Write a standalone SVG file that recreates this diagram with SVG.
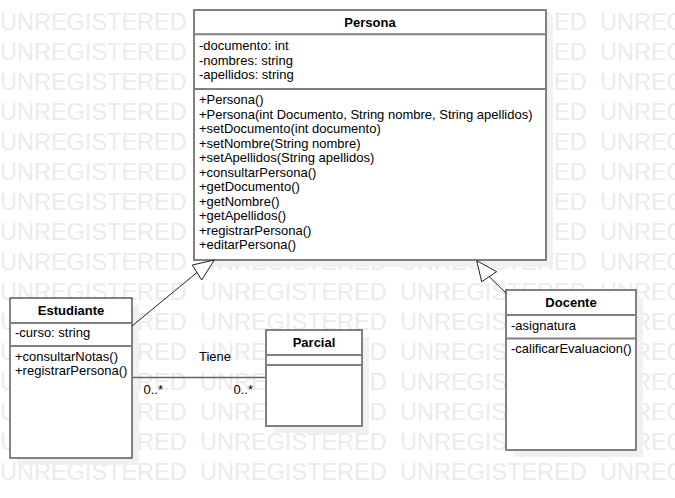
<svg xmlns="http://www.w3.org/2000/svg" xmlns:xlink="http://www.w3.org/1999/xlink" width="675" height="498" viewBox="0 0 675 498">
<style>
.wm{font-family:"Liberation Sans",Arial,sans-serif;font-size:23.5px;fill:#ebebeb}
.box{fill:#ffffff;stroke:#808080;stroke-width:2}
.boxd{fill:#ffffff;stroke:#333333;stroke-width:1.2}
.sep{stroke:#808080;stroke-width:2}
.shadow{fill:#f1f1f1}
.t{font-family:"Liberation Sans",Arial,sans-serif;font-size:13px;fill:#000}
.title{font-family:"Liberation Sans",Arial,sans-serif;font-size:13px;font-weight:bold;fill:#000;text-anchor:middle}
.edge{stroke:#222;stroke-width:1;fill:none}
.assoc{stroke:#666;stroke-width:1.5;fill:none}
.tri{stroke:#222;stroke-width:1;fill:#fff}
</style>
<defs>
<text id="wmrow" class="wm"><tspan x="0">UNREGISTERED</tspan><tspan x="200">UNREGISTERED</tspan><tspan x="400">UNREGISTERED</tspan><tspan x="600">UNREGISTERED</tspan></text>
</defs>
<rect width="675" height="498" fill="#ffffff"/>
<g id="watermark">
<use xlink:href="#wmrow" y="30"/><use xlink:href="#wmrow" y="60"/><use xlink:href="#wmrow" y="90"/><use xlink:href="#wmrow" y="120"/>
<use xlink:href="#wmrow" y="150"/><use xlink:href="#wmrow" y="180"/><use xlink:href="#wmrow" y="210"/><use xlink:href="#wmrow" y="240"/>
<use xlink:href="#wmrow" y="270"/><use xlink:href="#wmrow" y="300"/><use xlink:href="#wmrow" y="330"/><use xlink:href="#wmrow" y="360"/>
<use xlink:href="#wmrow" y="390"/><use xlink:href="#wmrow" y="420"/><use xlink:href="#wmrow" y="450"/><use xlink:href="#wmrow" y="480"/>
</g>
<g id="shadows">
<rect class="shadow" x="201" y="17" width="352" height="250"/>
<rect class="shadow" x="17" y="305" width="122" height="160"/>
<rect class="shadow" x="273" y="337" width="96" height="96"/>
<rect class="shadow" x="513" y="297" width="130" height="160"/>
</g>
<g id="Persona">
<rect class="box" x="194" y="10" width="352" height="250"/>
<line class="sep" x1="194" y1="34.3" x2="546" y2="34.3"/>
<line class="sep" x1="194" y1="89" x2="546" y2="89"/>
<text class="title" x="370" y="26.5">Persona</text>
<text class="t" x="199" y="50">-documento: int</text>
<text class="t" x="199" y="64.5">-nombres: string</text>
<text class="t" x="199" y="79">-apellidos: string</text>
<text class="t" x="199" y="104">+Persona()</text>
<text class="t" x="199" y="118.5">+Persona(int Documento, String nombre, String apellidos)</text>
<text class="t" x="199" y="133">+setDocumento(int documento)</text>
<text class="t" x="199" y="147.5">+setNombre(String nombre)</text>
<text class="t" x="199" y="162">+setApellidos(String apellidos)</text>
<text class="t" x="199" y="176.5">+consultarPersona()</text>
<text class="t" x="199" y="191">+getDocumento()</text>
<text class="t" x="199" y="205.5">+getNombre()</text>
<text class="t" x="199" y="220">+getApellidos()</text>
<text class="t" x="199" y="234.5">+registrarPersona()</text>
<text class="t" x="199" y="249">+editarPersona()</text>
</g>
<g id="Estudiante">
<rect class="boxd" x="10" y="298" width="122" height="160"/>
<line class="sep" x1="10" y1="323" x2="132" y2="323"/>
<line class="sep" x1="10" y1="346" x2="132" y2="346"/>
<text class="title" x="71" y="315">Estudiante</text>
<text class="t" x="15" y="337">-curso: string</text>
<text class="t" x="15" y="360.5">+consultarNotas()</text>
<text class="t" x="15" y="375">+registrarPersona()</text>
</g>
<g id="Parcial">
<rect class="box" x="266" y="330" width="96" height="96"/>
<line class="sep" x1="266" y1="355" x2="362" y2="355"/>
<line class="sep" x1="266" y1="365" x2="362" y2="365"/>
<text class="title" x="314" y="347">Parcial</text>
</g>
<g id="Docente">
<rect class="box" x="506" y="290" width="130" height="160"/>
<line class="sep" x1="506" y1="315" x2="636" y2="315"/>
<line class="sep" x1="506" y1="338.5" x2="636" y2="338.5"/>
<text class="title" x="571" y="307">Docente</text>
<text class="t" x="511" y="329.5">-asignatura</text>
<text class="t" x="511" y="353">-calificarEvaluacion()</text>
</g>
<g id="connectors">
<line class="assoc" x1="132.6" y1="377.5" x2="265" y2="377.5"/>
<text class="t" x="215" y="360.5" text-anchor="middle">Tiene</text>
<text class="t" x="143.5" y="393.5">0..*</text>
<text class="t" x="233.5" y="393.5">0..*</text>
<line class="edge" x1="132" y1="326" x2="197" y2="272.5"/>
<polygon class="tri" points="214.3,260 192.3,265 201.7,280"/>
<line class="edge" x1="506.5" y1="293.5" x2="489.2" y2="276.7"/>
<polygon class="tri" points="476.7,260.7 481.7,281.7 496.7,271.7"/>
</g>
</svg>
